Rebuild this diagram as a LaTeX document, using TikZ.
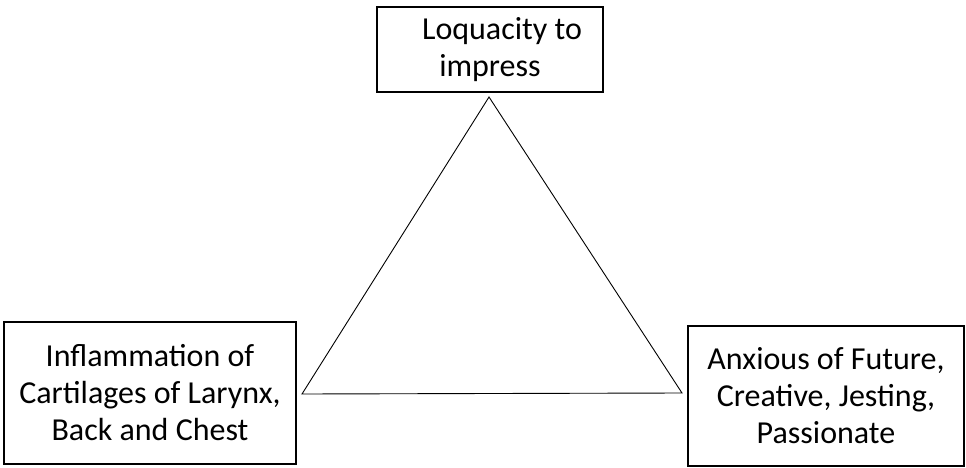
\documentclass[tikz,border=0pt]{standalone}
\usepackage{fontspec}
\setmainfont{Carlito}
\begin{document}
\begin{tikzpicture}[x=1pt,y=1pt,
  box/.style={draw=black, line width=1.2pt, inner sep=0pt, align=center,
    font=\fontsize{32}{37}\selectfont},
  tri/.style={draw=black, line width=0.9pt}]
\useasboundingbox (0,0) rectangle (966,467);
\node[box, minimum width=226pt, minimum height=85pt] (top) at (490,417.5)
  {\hspace*{24pt}Loquacity to\\impress};
\node[box, minimum width=292pt, minimum height=142pt] (left) at (150,74)
  {Inflammation of\\Cartilages of Larynx,\\Back and Chest};
\node[box, minimum width=276pt, minimum height=140pt] (right) at (826,71)
  {Anxious of Future,\\Creative, Jesting,\\Passionate};
\coordinate (apex) at (489,370);
\coordinate (bl) at (302,73);
\coordinate (br) at (682,74);
\draw[tri] (apex) -- (bl) -- (br) -- cycle;
\end{tikzpicture}
\end{document}
